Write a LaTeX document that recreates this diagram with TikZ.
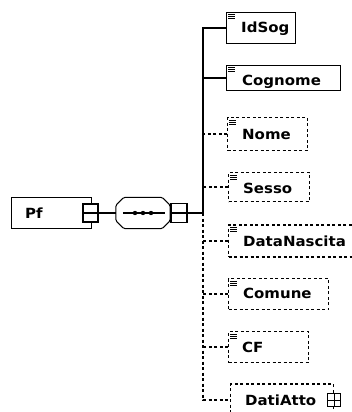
\documentclass[tikz,border=0pt]{standalone}
\usepackage{fontspec}
\setsansfont{DejaVu Sans}
\usetikzlibrary{positioning,calc}

% element names are drawn a little wide, as in the schema view
\newcommand{\elname}[1]{\scalebox{1.07}[1]{#1}}

\tikzset{
  elem/.style={draw, line width=1.4pt, minimum height=31pt, anchor=west, inner sep=0pt},
  optelem/.style={elem, line width=1.1pt, dash pattern=on 3pt off 2.5pt},
  elabel/.style={font=\sffamily\bfseries\fontsize{14}{15}\selectfont, anchor=base west, inner sep=0pt},
  ctrl/.style={draw, line width=1.2pt, fill=white, minimum width=15pt, minimum height=18pt, inner sep=0pt},
  link/.style={line width=1.2pt},
  optlink/.style={link, dash pattern=on 3pt off 2.5pt},
}

\begin{document}
\begin{tikzpicture}[x=1pt, y=-1pt]
  \useasboundingbox (0,0) rectangle (352,412);

  % root element and its sequence
  \node[draw, line width=1pt, minimum width=80pt, minimum height=31pt, anchor=west] (pf) at (11,213) {};
  \node[elabel] (pftxt) at (25,218) {\elname{Pf}};
  \node[ctrl] (pfctl) at (90.5,213) {};
  \draw[link] (pfctl.west) -- (pfctl.east);

  \node[minimum width=54pt, minimum height=31pt, inner sep=0pt] (seq) at (143,213) {};
  \draw[line width=1pt, rounded corners=1.5pt]
    ([xshift=8pt]seq.north west) -- ([xshift=-8pt]seq.north east)
    -- ([yshift=-8pt]seq.north east) -- ([yshift=8pt]seq.south east)
    -- ([xshift=-8pt]seq.south east) -- ([xshift=8pt]seq.south west)
    -- ([yshift=8pt]seq.south west) -- ([yshift=-8pt]seq.north west) -- cycle;
  \node[ctrl, minimum width=16pt, minimum height=19pt] (seqctl) at (179,213) {};
  \draw[link] (seqctl.west) -- (seqctl.east);
  \draw[link] ([xshift=7pt]seq.west) -- ([xshift=-5pt]seq.east);
  \foreach \x in {135,143,151}
    \fill (\x,213) circle (2.2pt);

  \coordinate (bus) at (203,213);
  \draw[link] (pfctl.east) -- (seq.west);
  \draw[link] (seqctl.east) -- (bus);

  % children
  \node[elem, minimum width=69pt] (idsog) at (226,28) {};
  \node[elem, minimum width=114pt, minimum height=25pt] (cognome) at (226,78) {};
  \node[optelem, minimum width=80pt, minimum height=33pt] (nome) at (227,134) {};
  \node[optelem, minimum width=81pt, minimum height=29pt] (sesso) at (228,187) {};
  \node[optelem, minimum width=128pt, minimum height=32pt] (datanascita) at (228,241) {};
  \node[optelem, minimum width=100pt] (comune) at (228,294) {};
  \node[optelem, minimum width=80pt] (cf) at (228,347) {};
  \node[optelem, minimum width=103pt, minimum height=32pt] (datiatto) at (230,400) {};

  \node[elabel] (idsogtxt) at (241,33) {\elname{IdSog}};
  \node[elabel] (cognometxt) at (242,85) {\elname{Cognome}};
  \node[elabel] (nometxt) at (242,139) {\elname{Nome}};
  \node[elabel] (sessotxt) at (243,193) {\elname{Sesso}};
  \node[elabel] (datanascitatxt) at (243,246) {\elname{DataNascita}};
  \node[elabel] (comunetxt) at (243,298) {\elname{Comune}};
  \node[elabel] (cftxt) at (242,352) {\elname{CF}};
  \node[elabel] (datiattotxt) at (245,405) {\elname{DatiAtto}};

  % doc icons
  \foreach \n in {idsog,cognome,nome,sesso,datanascita,comune,cf}
    \foreach \k in {3,5,7}
      \draw[line width=0.7pt] ([shift={(2pt,-\k pt)}]\n.north west) -- ++(7,0);

  % expand box
  \node[draw, line width=1.2pt, fill=white, minimum size=13pt, inner sep=0pt] (expand) at (datiatto.east) {};
  \draw[line width=0.9pt] (expand.west) -- (expand.east) (expand.north) -- (expand.south);

  % connectors
  \draw[link] (idsog.west) -| (bus);
  \draw[link] (cognome.west) -- (cognome.west -| bus);
  \draw[optlink] (bus) |- (datiatto.west);
  \foreach \n in {nome,sesso,datanascita,comune,cf}
    \draw[optlink] (\n.west) -- (\n.west -| bus);
\end{tikzpicture}
\end{document}
